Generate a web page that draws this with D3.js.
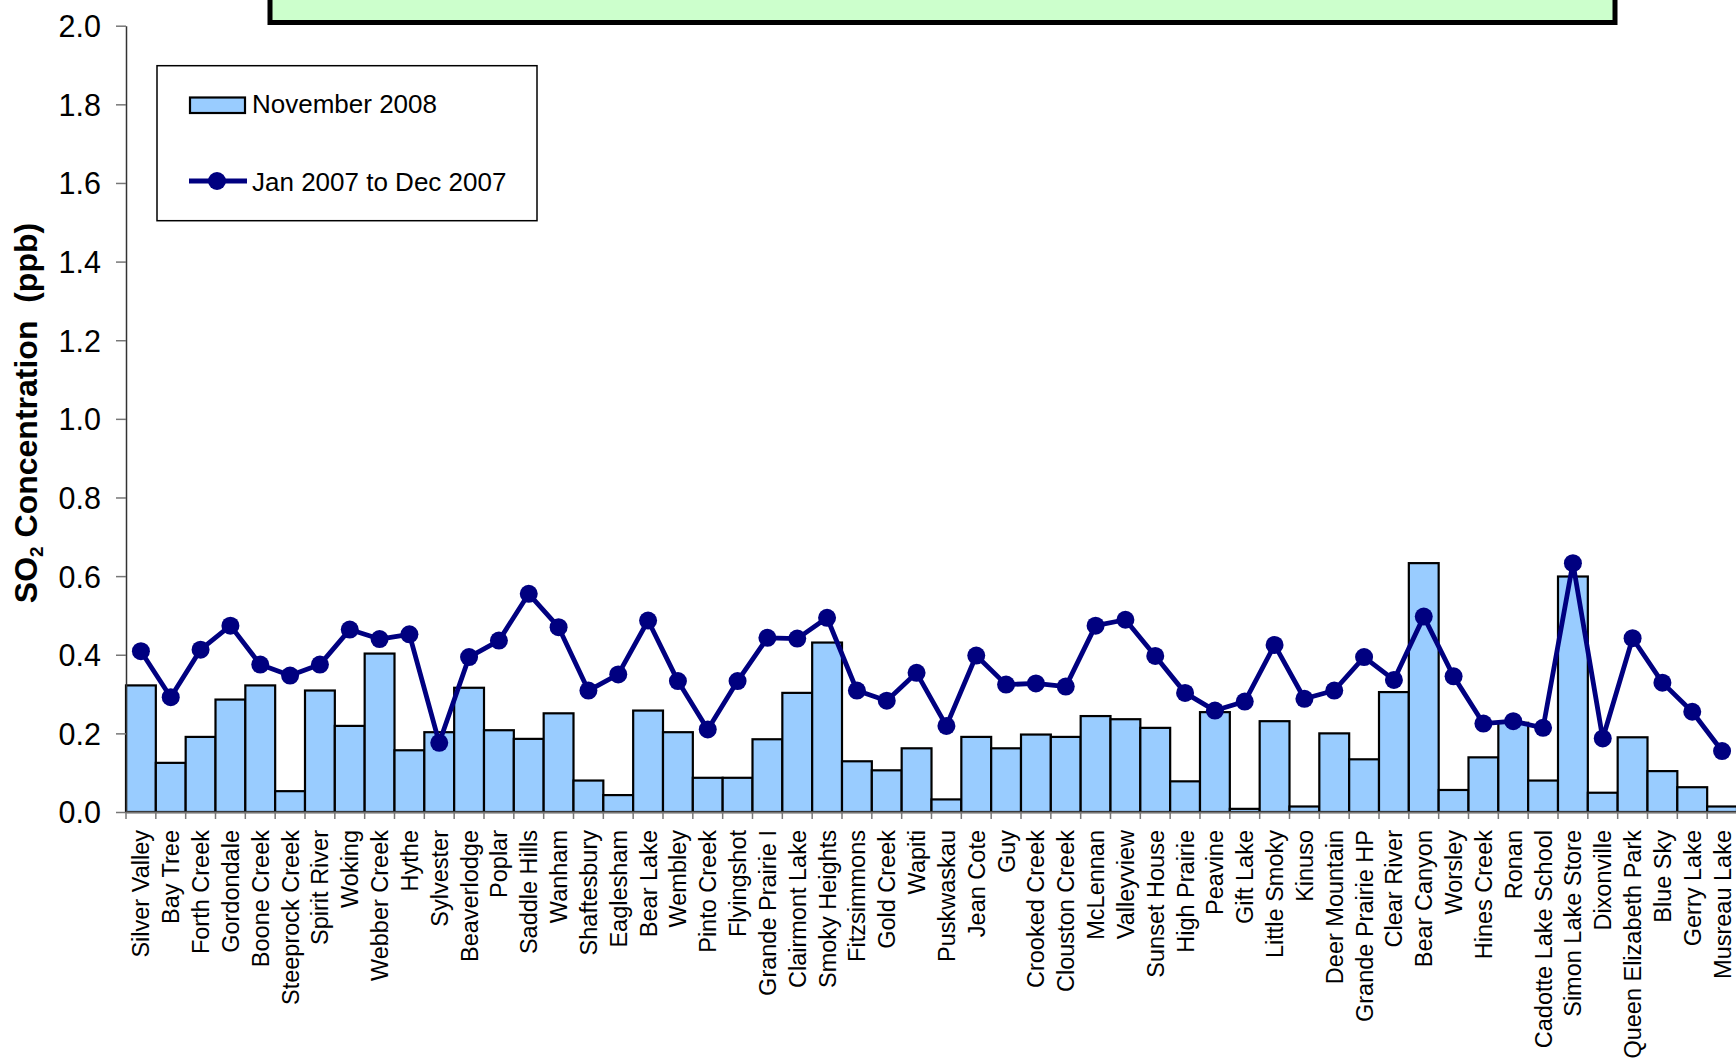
<!DOCTYPE html>
<html>
<head>
<meta charset="utf-8">
<script src="https://cdn.jsdelivr.net/npm/d3@7"></script>
<style>
  body { margin: 0; background: #fff; }
  svg { display: block; font-family: "Liberation Sans", Arial, sans-serif; }
</style>
</head>
<body>
<div id="chart"></div>
<script>
/* DATA */
const stations = [
  "Silver Valley", "Bay Tree", "Forth Creek", "Gordondale", "Boone Creek",
  "Steeprock Creek", "Spirit River", "Woking", "Webber Creek", "Hythe",
  "Sylvester", "Beaverlodge", "Poplar", "Saddle Hills", "Wanham",
  "Shaftesbury", "Eaglesham", "Bear Lake", "Wembley", "Pinto Creek",
  "Flyingshot", "Grande Prairie I", "Clairmont Lake", "Smoky Heights", "Fitzsimmons",
  "Gold Creek", "Wapiti", "Puskwaskau", "Jean Cote", "Guy",
  "Crooked Creek", "Clouston Creek", "McLennan", "Valleyview", "Sunset House",
  "High Prairie", "Peavine", "Gift Lake", "Little Smoky", "Kinuso",
  "Deer Mountain", "Grande Prairie HP", "Clear River", "Bear Canyon", "Worsley",
  "Hines Creek", "Ronan", "Cadotte Lake School", "Simon Lake Store", "Dixonville",
  "Queen Elizabeth Park", "Blue Sky", "Gerry Lake", "Musreau Lake"
];

// November 2008 monthly average (bars)
const nov2008 = [
  0.322, 0.125, 0.191, 0.286, 0.322,
  0.053, 0.309, 0.219, 0.403, 0.157,
  0.203, 0.316, 0.208, 0.186, 0.251,
  0.080, 0.043, 0.258, 0.203, 0.087,
  0.087, 0.185, 0.303, 0.431, 0.129,
  0.106, 0.162, 0.032, 0.191, 0.162,
  0.197, 0.191, 0.244, 0.236, 0.214,
  0.078, 0.254, 0.008, 0.231, 0.014,
  0.200, 0.134, 0.305, 0.633, 0.056,
  0.139, 0.227, 0.080, 0.599, 0.049,
  0.190, 0.104, 0.063, 0.014
];

// Jan 2007 to Dec 2007 average (line)
const year2007 = [
  0.409, 0.292, 0.413, 0.474, 0.375,
  0.347, 0.375, 0.464, 0.440, 0.452,
  0.176, 0.394, 0.436, 0.555, 0.470,
  0.309, 0.350, 0.487, 0.333, 0.210,
  0.333, 0.443, 0.441, 0.494, 0.309,
  0.283, 0.354, 0.219, 0.398, 0.324,
  0.327, 0.319, 0.474, 0.489, 0.397,
  0.303, 0.258, 0.281, 0.425, 0.288,
  0.309, 0.394, 0.336, 0.497, 0.345,
  0.225, 0.231, 0.214, 0.633, 0.187,
  0.442, 0.329, 0.255, 0.155
];

const yTicks = [0, 0.2, 0.4, 0.6, 0.8, 1.0, 1.2, 1.4, 1.6, 1.8, 2.0];
const seriesNames = ["November 2008", "Jan 2007 to Dec 2007"];

/* CONSTANTS */
const width = 1736,
  height = 1062,
  margin = { top: 25.7, left: 126, right: 1737, bottom: 812 },
  barFill = "#99CCFF",
  lineColor = "#000080",
  radius = 9;

const svg = d3.select("#chart")
  .append("svg")
  .attr("width", width)
  .attr("height", height);

/* SCALES */
const xScale = d3.scaleBand()
  .domain(stations)
  .range([margin.left, margin.right])
  .padding(0);

const yScale = d3.scaleLinear()
  .domain([0, 2])
  .range([margin.bottom, margin.top]);

// title box, cut off at the top
svg.append("rect")
  .attr("x", 270)
  .attr("y", -30)
  .attr("width", 1345)
  .attr("height", 52.5)
  .attr("fill", "#CCFFCC")
  .attr("stroke", "#000")
  .attr("stroke-width", 5);

/* BARS */
svg.append("g")
  .selectAll("rect")
  .data(stations)
  .join("rect")
  .attr("x", d => xScale(d))
  .attr("y", (d, i) => yScale(nov2008[i]))
  .attr("width", xScale.bandwidth())
  .attr("height", (d, i) => yScale(0) - yScale(nov2008[i]))
  .attr("fill", barFill)
  .attr("stroke", "#000")
  .attr("stroke-width", 2.2);

/* AXES */
const yAxis = d3.axisLeft(yScale)
  .tickValues(yTicks)
  .tickFormat(d3.format(".1f"))
  .tickSize(10)
  .tickSizeOuter(0)
  .tickPadding(15);

const yG = svg.append("g")
  .attr("transform", `translate(${margin.left}, 0)`)
  .call(yAxis);
yG.select(".domain").attr("stroke", "#333").attr("stroke-width", 1.5);
yG.selectAll(".tick line").attr("stroke", "#777").attr("stroke-width", 1.5);
yG.selectAll(".tick text")
  .attr("font-size", 30.5)
  .attr("fill", "#000")
  .attr("dy", "0.36em");

const xAxis = d3.axisBottom(xScale)
  .tickSize(0)
  .tickSizeOuter(0);

const xG = svg.append("g")
  .attr("transform", `translate(0, ${margin.bottom})`)
  .call(xAxis);
xG.select(".domain").attr("stroke", "#777").attr("stroke-width", 2);
xG.selectAll(".tick text")
  .attr("font-size", 23.5)
  .attr("fill", "#000")
  .attr("transform", "rotate(-90)")
  .attr("text-anchor", "end")
  .attr("x", -18)
  .attr("y", 0)
  .attr("dy", "0.36em");

// category ticks sit between the bars
xG.selectAll("line.sep")
  .data(stations.map(d => xScale(d)).concat([margin.right]))
  .join("line")
  .attr("class", "sep")
  .attr("x1", d => d)
  .attr("x2", d => d)
  .attr("y1", 0)
  .attr("y2", 7)
  .attr("stroke", "#777")
  .attr("stroke-width", 1.5);

/* LINE */
const line = d3.line()
  .x((d, i) => xScale(stations[i]) + xScale.bandwidth() / 2)
  .y(d => yScale(d));

svg.append("path")
  .datum(year2007)
  .attr("d", line)
  .attr("fill", "none")
  .attr("stroke", lineColor)
  .attr("stroke-width", 4.8)
  .attr("stroke-linejoin", "round");

svg.append("g")
  .selectAll("circle")
  .data(year2007)
  .join("circle")
  .attr("cx", (d, i) => xScale(stations[i]) + xScale.bandwidth() / 2)
  .attr("cy", d => yScale(d))
  .attr("r", radius)
  .attr("fill", lineColor);

/* Y TITLE */
const title = svg.append("text")
  .attr("transform", "translate(37, 413) rotate(-90)")
  .attr("text-anchor", "middle")
  .attr("font-size", 32)
  .attr("font-weight", "bold")
  .attr("fill", "#000")
  .attr("xml:space", "preserve");
title.append("tspan").text("SO");
title.append("tspan").text("2").attr("font-size", 19).attr("dy", 6);
title.append("tspan").text(" Concentration  (ppb)").attr("dy", -6).style("white-space", "pre");

/* LEGEND */
const legend = svg.append("g");
legend.append("rect")
  .attr("x", 157)
  .attr("y", 65.7)
  .attr("width", 380)
  .attr("height", 155)
  .attr("fill", "#fff")
  .attr("stroke", "#000")
  .attr("stroke-width", 1.5);

legend.append("rect")
  .attr("x", 190)
  .attr("y", 97.5)
  .attr("width", 55)
  .attr("height", 15.5)
  .attr("fill", barFill)
  .attr("stroke", "#000")
  .attr("stroke-width", 2.2);

legend.append("line")
  .attr("x1", 189)
  .attr("x2", 247)
  .attr("y1", 181)
  .attr("y2", 181)
  .attr("stroke", lineColor)
  .attr("stroke-width", 4.8);

legend.append("circle")
  .attr("cx", 217)
  .attr("cy", 181)
  .attr("r", radius)
  .attr("fill", lineColor);

legend.selectAll("text.lbl")
  .data(seriesNames)
  .join("text")
  .attr("class", "lbl")
  .attr("x", 252)
  .attr("y", (d, i) => i === 0 ? 113.3 : 190.6)
  .attr("font-size", 26)
  .attr("fill", "#000")
  .text(d => d);
</script>
</body>
</html>
